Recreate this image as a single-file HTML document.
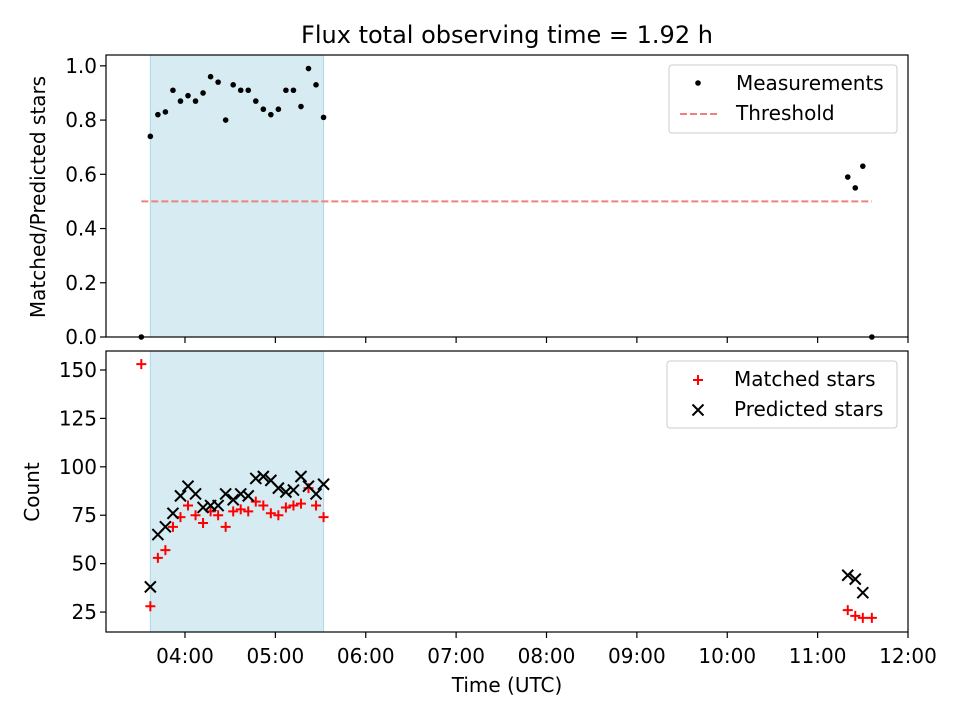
<!DOCTYPE html>
<html><head><meta charset="utf-8"><style>
body{margin:0;background:#fff;}
svg{display:block;font-family:"DejaVu Sans","Liberation Sans",sans-serif;}
</style></head><body>
<svg id="c" width="960" height="720" xmlns="http://www.w3.org/2000/svg"></svg>
<script>
// data (times in minutes after 00:00 UTC)
const mainTimes=[217,222,227,232,237,242,247,252,257,262,267,272,277,282,287,292,297,302,307,312,317,322,327,332];
const ratioVals=[0.74,0.82,0.83,0.91,0.87,0.89,0.87,0.90,0.96,0.94,0.80,0.93,0.91,0.91,0.87,0.84,0.82,0.84,0.91,0.91,0.85,0.99,0.93,0.81];
const matchedVals=[28,53,57,69,74,80,75,71,77,75,69,77,78,77,82,80,76,75,79,80,81,89,80,74];
const predictedVals=[38,65,69,76,85,90,86,79,80,80,86,83,86,85,94,95,93,89,87,88,95,90,86,91];
const lateTimes=[680,685,690];
const lateRatio=[0.59,0.55,0.63];
const lateMatched=[26,23,22];
const latePredicted=[44,42,35];
const edgeTimes=[211,696];
const edgeRatio=[0,0];
const edgeMatched=[153,22];
const shadeStart=217, shadeEnd=332;
const threshold=0.5;
const xTicks=["04:00","05:00","06:00","07:00","08:00","09:00","10:00","11:00","12:00"];
const topTicks=[0,0.2,0.4,0.6,0.8,1.0];
const botTicks=[25,50,75,100,125,150];

const NS="http://www.w3.org/2000/svg";
const svg=document.getElementById('c');
function el(t,a,p){const e=document.createElementNS(NS,t);for(const k in a)e.setAttribute(k,a[k]);(p||svg).appendChild(e);return e;}
const L=106,R=908,T1=55,B1=337,T2=351,B2=632;
const FS=20;
const X=m=>L+(m/60-3.126)*(R-L)/(12-3.126);
const Y1=v=>B1-v*(B1-T1)/1.04;
const Y2=v=>B2-(v-14.7)*(B2-T2)/(159.8-14.7);

let t=el('text',{x:507,y:43,'font-size':24,'text-anchor':'middle',fill:'#000'});t.textContent='Flux total observing time = 1.92 h';


function panel(T,B,name){
  const g=el('g',{});
  const s=el('rect',{x:X(shadeStart),y:T,width:X(shadeEnd)-X(shadeStart),height:B-T,fill:'#add8e6','fill-opacity':0.5,stroke:'#add8e6'},g);
  
  return g;
}
const g1=panel(T1,B1,'ratio-panel');
const g2=panel(T2,B2,'count-panel');

let th=el('line',{x1:X(edgeTimes[0]),x2:X(edgeTimes[1]),y1:Y1(threshold),y2:Y1(threshold),stroke:'#f08080','stroke-width':2,'stroke-dasharray':'7,3'},g1);


function dot(m,v){const c=el('circle',{cx:X(m),cy:Y1(v),r:2.8,fill:'#000'},g1);
  }
mainTimes.forEach((m,i)=>dot(m,ratioVals[i]));
lateTimes.forEach((m,i)=>dot(m,lateRatio[i]));
edgeTimes.forEach((m,i)=>dot(m,edgeRatio[i]));

function plus(x,y,g){const p=el('path',{d:`M${x-5},${y}H${x+5}M${x},${y-5}V${y+5}`,stroke:'#f00','stroke-width':2},g);
  }
function cross(x,y,g){const p=el('path',{d:`M${x-5.5},${y-5.5}L${x+5.5},${y+5.5}M${x-5.5},${y+5.5}L${x+5.5},${y-5.5}`,stroke:'#000','stroke-width':2},g);
  }
mainTimes.forEach((m,i)=>plus(X(m),Y2(matchedVals[i]),g2));
lateTimes.forEach((m,i)=>plus(X(m),Y2(lateMatched[i]),g2));
edgeTimes.forEach((m,i)=>plus(X(m),Y2(edgeMatched[i]),g2));
mainTimes.forEach((m,i)=>cross(X(m),Y2(predictedVals[i]),g2));
lateTimes.forEach((m,i)=>cross(X(m),Y2(latePredicted[i]),g2));

[[T1,B1,'ratio-frame'],[T2,B2,'count-frame']].forEach(([T,B,n])=>{const r=el('rect',{x:L,y:T,width:R-L,height:B-T,fill:'none',stroke:'#000','stroke-width':1.2});
  });

xTicks.forEach((lab,i)=>{const x=X((4+i)*60);
  el('line',{x1:x,x2:x,y1:B1,y2:B1+6,stroke:'#000','stroke-width':1.2});
  el('line',{x1:x,x2:x,y1:B2,y2:B2+6,stroke:'#000','stroke-width':1.2});
  const tx=el('text',{x:x,y:663,'font-size':FS,'text-anchor':'middle'});tx.textContent=lab;
  });
topTicks.forEach(v=>{const y=Y1(v);el('line',{x1:L-6,x2:L,y1:y,y2:y,stroke:'#000','stroke-width':1.2});
  const tx=el('text',{x:L-9,y:y+7,'font-size':FS,'text-anchor':'end'});tx.textContent=v.toFixed(1);
  });
botTicks.forEach(v=>{const y=Y2(v);el('line',{x1:L-6,x2:L,y1:y,y2:y,stroke:'#000','stroke-width':1.2});
  const tx=el('text',{x:L-9,y:y+7,'font-size':FS,'text-anchor':'end'});tx.textContent=v;
  });

let xl=el('text',{x:507,y:692,'font-size':FS,'text-anchor':'middle'});xl.textContent='Time (UTC)';

let y1l=el('text',{x:45,y:197,'font-size':FS,'text-anchor':'middle',transform:'rotate(-90 45 197)'});y1l.textContent='Matched/Predicted stars';

let y2l=el('text',{x:39,y:492,'font-size':FS,'text-anchor':'middle',transform:'rotate(-90 39 492)'});y2l.textContent='Count';


function legend(x,y,w,h,name){const r=el('rect',{x:x,y:y,width:w,height:h,rx:3,fill:'#fff','fill-opacity':0.8,stroke:'#ccc'});
  }
legend(669,65,228,68,'ratio-legend');
el('circle',{cx:698,cy:83,r:2.8,fill:'#000'});
let lt=el('text',{x:736,y:90,'font-size':FS});lt.textContent='Measurements';
el('line',{x1:680,x2:718,y1:114,y2:114,stroke:'#f08080','stroke-width':2,'stroke-dasharray':'7,3'});
lt=el('text',{x:736,y:120,'font-size':FS});lt.textContent='Threshold';

legend(667,361,230,67,'count-legend');
plus(698,380,svg);
lt=el('text',{x:734,y:386,'font-size':FS});lt.textContent='Matched stars';
cross(698,410,svg);
lt=el('text',{x:734,y:416,'font-size':FS});lt.textContent='Predicted stars';
</script>
</body></html>
